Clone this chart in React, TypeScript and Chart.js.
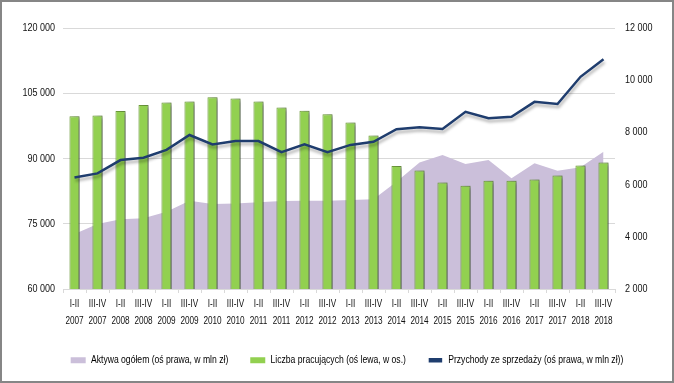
import React, { useEffect, useRef } from 'react';
import { Chart, registerables } from 'chart.js';

Chart.register(...registerables);

const periods = ['I-II', 'III-IV', 'I-II', 'III-IV', 'I-II', 'III-IV', 'I-II', 'III-IV', 'I-II', 'III-IV', 'I-II', 'III-IV', 'I-II', 'III-IV', 'I-II', 'III-IV', 'I-II', 'III-IV', 'I-II', 'III-IV', 'I-II', 'III-IV', 'I-II', 'III-IV'];
const years = ['2007', '2007', '2008', '2008', '2009', '2009', '2010', '2010', '2011', '2011', '2012', '2012', '2013', '2013', '2014', '2014', '2015', '2015', '2016', '2016', '2017', '2017', '2018', '2018'];

// Liczba pracujących (oś lewa, w os.)
const employees = [99700, 99900, 100900, 102300, 102900, 103100, 104100, 103800, 103100, 101700, 101000, 100200, 98300, 95300, 88250, 87250, 84500, 83750, 84900, 84900, 85200, 86100, 88400, 89100];
// Aktywa ogółem (oś prawa, w mln zł)
const assets = [4110, 4490, 4670, 4710, 4960, 5380, 5260, 5280, 5320, 5370, 5380, 5380, 5410, 5440, 6110, 6850, 7130, 6790, 6940, 6240, 6820, 6530, 6660, 7260];
// Przychody ze sprzedaży (oś prawa, w mln zł)
const revenue = [6270, 6430, 6940, 7030, 7330, 7900, 7540, 7670, 7670, 7240, 7540, 7240, 7520, 7640, 8120, 8200, 8130, 8790, 8540, 8600, 9170, 9090, 10130, 10800];

const seriesNames = ['Aktywa ogółem (oś prawa, w mln zł)', 'Liczba pracujących (oś lewa, w os.)', 'Przychody ze sprzedaży (oś prawa, w mln zł))'];

const leftMin = 60000;
const leftMax = 120000;
const leftStep = 15000;
const rightMin = 2000;
const rightMax = 12000;
const rightStep = 2000;

const FONT = "'Liberation Sans', Arial, sans-serif";
const NARROW = 0.82; // emulates a narrow face (Arial Narrow = Arial at 82% width)
const TEXT = '#111';

const fmt = (v: number) => String(v).replace(/\B(?=(\d{3})+(?!\d))/g, ' ');

function makeNarrow(ctx: any) {
  if (ctx.__narrow) return;
  ctx.__narrow = true;
  const origFill = ctx.fillText.bind(ctx);
  const origMeasure = ctx.measureText.bind(ctx);
  ctx.fillText = (t: string, x: number, y: number) => {
    ctx.save();
    ctx.translate(x, y);
    ctx.scale(NARROW, 1);
    origFill(t, 0, 0);
    ctx.restore();
  };
  ctx.measureText = (t: string) => {
    const m = origMeasure(t);
    return {
      width: m.width * NARROW,
      actualBoundingBoxAscent: m.actualBoundingBoxAscent,
      actualBoundingBoxDescent: m.actualBoundingBoxDescent,
      actualBoundingBoxLeft: m.actualBoundingBoxLeft * NARROW,
      actualBoundingBoxRight: m.actualBoundingBoxRight * NARROW,
      fontBoundingBoxAscent: m.fontBoundingBoxAscent,
      fontBoundingBoxDescent: m.fontBoundingBoxDescent,
    };
  };
}

const shadowPlugin = {
  id: 'shadows',
  beforeDatasetDraw(chart: any, args: any) {
    const ctx = chart.ctx;
    ctx.save();
    const s = chart.data.datasets[args.index].shadow;
    if (s) {
      ctx.shadowColor = s.color;
      ctx.shadowBlur = s.blur;
      ctx.shadowOffsetX = s.x;
      ctx.shadowOffsetY = s.y;
    }
  },
  afterDatasetDraw(chart: any) {
    chart.ctx.restore();
  },
};

const legendAreaPlugin = {
  id: 'legendArea',
  afterLayout(chart: any) {
    if (chart.legend) chart.legend.bottom = chart.height;
  },
};

const framePlugin = {
  id: 'frame',
  afterDraw(chart: any) {
    const ctx = chart.ctx;
    ctx.save();
    ctx.strokeStyle = '#868686';
    ctx.lineWidth = 2;
    ctx.strokeRect(1, 1, chart.width - 2, chart.height - 2);
    ctx.restore();
  },
};

export default function App() {
  const ref = useRef<HTMLCanvasElement | null>(null);

  useEffect(() => {
    if (!ref.current) return;
    const ctx = ref.current.getContext('2d');
    makeNarrow(ctx);
    const labels = periods.map((p, i) => [p, years[i]]);
    const chart = new Chart(ctx as any, {
      data: {
        labels,
        datasets: [
          {
            type: 'line',
            label: seriesNames[0],
            data: assets,
            yAxisID: 'y1',
            fill: 'start',
            backgroundColor: '#CBBFDA',
            borderColor: '#CBBFDA',
            borderWidth: 0,
            pointRadius: 0,
            tension: 0,
            order: 3,
            shadow: { color: 'rgba(0,0,0,0.18)', blur: 3, x: 2, y: 2 },
          } as any,
          {
            type: 'bar',
            label: seriesNames[1],
            data: employees,
            yAxisID: 'y',
            backgroundColor: '#92D050',
            borderColor: '#6E9B3A',
            borderWidth: 1,
            barPercentage: 0.44,
            categoryPercentage: 1,
            order: 2,
            shadow: { color: 'rgba(40,35,60,0.6)', blur: 4, x: 4, y: 1 },
          } as any,
          {
            type: 'line',
            label: seriesNames[2],
            data: revenue,
            yAxisID: 'y1',
            fill: false,
            borderColor: '#1F3D6E',
            backgroundColor: '#1F3D6E',
            borderWidth: 2.5,
            pointRadius: 0,
            tension: 0,
            order: 1,
            shadow: { color: 'rgba(0,0,0,0.3)', blur: 3, x: 1, y: 3 },
          } as any,
        ],
      },
      options: {
        responsive: false,
        animation: false,
        layout: { padding: { left: 20, right: 0, top: 28, bottom: 20 } },
        plugins: {
          tooltip: { enabled: false },
          legend: {
            position: 'bottom',
            maxHeight: 30,
            labels: {
              color: TEXT,
              font: { family: FONT, size: 10.5 },
              boxWidth: 15,
              boxHeight: 6,
              padding: 22,
              generateLabels: (ch: any) =>
                ch.data.datasets.map((ds: any, i: number) => ({
                  text: ds.label,
                  fillStyle: i === 2 ? '#1F3D6E' : ds.backgroundColor,
                  strokeStyle: i === 2 ? '#ffffff' : ds.backgroundColor,
                  lineWidth: i === 2 ? 1.5 : 0,
                  hidden: false,
                  datasetIndex: i,
                })),
            },
          },
        },
        scales: {
          x: {
            offset: true,
            grid: {
              display: true,
              drawOnChartArea: false,
              drawTicks: true,
              tickLength: 4,
              offset: true,
              color: '#D9D9D9',
            },
            border: { display: true, color: '#D9D9D9' },
            ticks: {
              color: TEXT,
              font: { family: FONT, size: 10, lineHeight: '17px' },
              padding: 3,
              maxRotation: 0,
              autoSkip: false,
            },
            afterFit: (s: any) => {
              s.height = 44;
            },
          },
          y: {
            position: 'left',
            min: leftMin,
            max: leftMax,
            grid: { color: '#D9D9D9', drawTicks: false },
            border: { display: false },
            ticks: {
              stepSize: leftStep,
              color: TEXT,
              padding: 8,
              font: { family: FONT, size: 11 },
              callback: (v: any) => fmt(Number(v)),
            },
            afterFit: (s: any) => {
              s.width = 43;
            },
          },
          y1: {
            position: 'right',
            min: rightMin,
            max: rightMax,
            grid: { display: false, drawTicks: false },
            border: { display: false },
            ticks: {
              stepSize: rightStep,
              color: TEXT,
              padding: 10,
              font: { family: FONT, size: 11 },
              callback: (v: any) => fmt(Number(v)),
            },
            afterFit: (s: any) => {
              s.width = 59;
            },
          },
        },
      } as any,
      plugins: [shadowPlugin, legendAreaPlugin, framePlugin],
    });
    return () => chart.destroy();
  }, []);

  return (
    <div style={{ position: 'fixed', left: 0, top: 0, width: 674, height: 383, background: '#fff' }}>
      <canvas ref={ref} width={674} height={383} style={{ display: 'block' }} />
    </div>
  );
}
